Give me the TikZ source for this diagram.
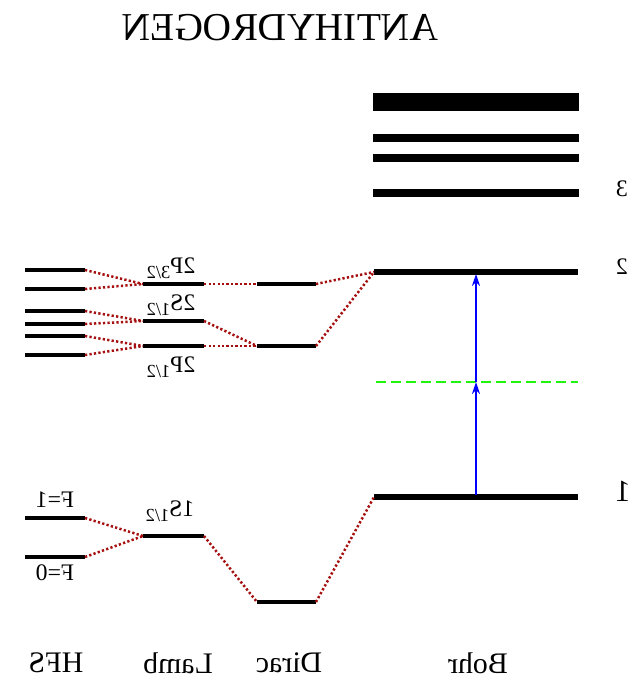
\documentclass[tikz,border=0pt]{standalone}
\usepackage{fontspec}
\setmainfont{Liberation Serif}
\usepackage{graphicx}
\usepackage{tikz}
\usetikzlibrary{arrows.meta}

\definecolor{linkred}{RGB}{165,15,15}
\definecolor{midgreen}{RGB}{30,245,10}
% mirrored text and mirrored term symbol
\newcommand{\mirtxt}[1]{\reflectbox{#1}}
\newcommand{\termsym}[2]{\reflectbox{#1\raisebox{-0.5ex}{\fontsize{10.5}{11}\selectfont #2}}}

\begin{document}
\begin{tikzpicture}[x=0.02cm,y=-0.02cm,>={Stealth[length=0.24cm,width=0.16cm]},
  lvl/.style={line width=0.09cm},
  bohrlvl/.style={line width=0.105cm},
  link/.style={draw=linkred,line width=0.05cm,dash pattern=on 0.045cm off 0.045cm},
  smalltxt/.style={font=\fontsize{13.5}{15}\selectfont,inner sep=0pt},
  coltxt/.style={font=\fontsize{17}{20}\selectfont,inner sep=0pt}]
  \useasboundingbox (0,0) rectangle (639,678);

  \node[font=\fontsize{22.5}{26}\selectfont,inner sep=0pt] (title) at (280,28) {\mirtxt{ANTIHYDROGEN}};

  % HFS levels
  \foreach \y [count=\i] in {270,289,311,324,336,355} {
    \coordinate (hl\i) at (25,\y);
    \coordinate (hr\i) at (85,\y);
    \draw[lvl] (hl\i) -- (hr\i);
  }
  \coordinate (f1l) at (25,518); \coordinate (f1r) at (85,518);
  \coordinate (f0l) at (25,557); \coordinate (f0r) at (85,557);
  \draw[lvl] (f1l) -- (f1r);
  \draw[lvl] (f0l) -- (f0r);

  % Lamb levels
  \coordinate (p3l) at (143,284); \coordinate (p3r) at (204,284);
  \coordinate (s2l) at (143,321); \coordinate (s2r) at (204,321);
  \coordinate (p1l) at (143,346); \coordinate (p1r) at (204,346);
  \coordinate (s1l) at (143,536); \coordinate (s1r) at (204,536);
  \foreach \n in {p3,s2,p1,s1} \draw[lvl] (\n l) -- (\n r);

  % Dirac levels
  \coordinate (dal) at (257,284); \coordinate (dar) at (316,284);
  \coordinate (dbl) at (257,346); \coordinate (dbr) at (316,346);
  \coordinate (dcl) at (257,602); \coordinate (dcr) at (316,602);
  \foreach \n in {da,db,dc} \draw[lvl] (\n l) -- (\n r);

  % Bohr levels
  \fill (373,93) rectangle (579,111);
  \draw[line width=0.165cm] (373,138) -- (579,138);
  \draw[line width=0.165cm] (373,158) -- (579,158);
  \draw[line width=0.145cm] (373,193) -- (579,193);
  \coordinate (b2l) at (374,272); \coordinate (b2r) at (578,272);
  \coordinate (b1l) at (374,497); \coordinate (b1r) at (578,497);
  \draw[bohrlvl] (b2l) -- (b2r);
  \draw[bohrlvl] (b1l) -- (b1r);
  \coordinate (gl) at (376,382); \coordinate (gr) at (578,382);
  \draw[midgreen,line width=0.05cm,dash pattern=on 0.2cm off 0.1cm] (gl) -- (gr);

  % two-photon transition
  \coordinate (a1) at (476,495);
  \coordinate (a2) at (476,382);
  \coordinate (a3) at (476,274);
  \draw[->,blue,line width=0.045cm] (a1) -- (a2);
  \draw[->,blue,line width=0.045cm] (a2) -- (a3);

  % dotted links
  \draw[link] (hr1) -- (p3l);
  \draw[link] (hr2) -- (p3l);
  \draw[link] (hr3) -- (s2l);
  \draw[link] (hr4) -- (s2l);
  \draw[link] (hr5) -- (p1l);
  \draw[link] (hr6) -- (p1l);
  \draw[link] (f1r) -- (s1l);
  \draw[link] (f0r) -- (s1l);
  \draw[link] (p3r) -- (dal);
  \draw[link] (s2r) -- (dbl);
  \draw[link] (p1r) -- (dbl);
  \draw[link] (s1r) -- (dcl);
  \draw[link] (dar) -- (b2l);
  \draw[link] (dbr) -- (b2l);
  \draw[link] (dcr) -- (b1l);

  % labels
  \node[smalltxt] (lp3) at (171,268) {\termsym{2P}{3/2}};
  \node[smalltxt] (ls2) at (171,305) {\termsym{2S}{1/2}};
  \node[smalltxt] (lp1) at (171,367) {\termsym{2P}{1/2}};
  \node[smalltxt] (ls1) at (170,511) {\termsym{1S}{1/2}};
  \node[smalltxt] (lf1) at (55,500) {\mirtxt{F=1}};
  \node[smalltxt] (lf0) at (55,573) {\mirtxt{F=0}};
  \node[font=\fontsize{13.5}{15}\selectfont,inner sep=0pt] (n3) at (622,189) {\mirtxt{3}};
  \node[font=\fontsize{13.5}{15}\selectfont,inner sep=0pt] (n2) at (622,267) {\mirtxt{2}};
  \node[font=\fontsize{17.5}{20}\selectfont,inner sep=0pt] (n1) at (623,491) {\mirtxt{1}};

  \node[coltxt] (hfs) at (56,663) {\mirtxt{HFS}};
  \node[coltxt] (lamb) at (178,663) {\mirtxt{Lamb}};
  \node[coltxt] (dirac) at (289,663) {\mirtxt{Dirac}};
  \node[coltxt] (bohr) at (478,663) {\mirtxt{Bohr}};
\end{tikzpicture}
\end{document}
